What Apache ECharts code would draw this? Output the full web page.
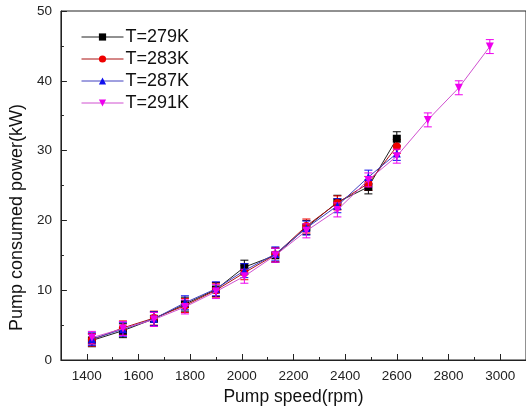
<!DOCTYPE html>
<html>
<head>
<meta charset="utf-8">
<script src="https://cdn.jsdelivr.net/npm/echarts@6/dist/echarts.min.js"></script>
<style>
html,body{margin:0;padding:0;background:#fff;}
#chart{width:526px;height:416px;}
</style>
</head>
<body>
<div id="chart"></div>
<script>
// ---- data ----
const speeds = [1420, 1540, 1660, 1780, 1900, 2010, 2130, 2250, 2370, 2490, 2600];
const speeds291 = [1420, 1540, 1660, 1780, 1900, 2010, 2130, 2250, 2370, 2490, 2600, 2720, 2840, 2960];
const seriesNames = ['T=279K', 'T=283K', 'T=287K', 'T=291K'];
const p279 = [2.8, 4.2, 5.9, 8.0, 10.1, 13.3, 15.0, 19.0, 22.6, 24.8, 31.7];
const p283 = [2.9, 4.6, 6.0, 7.8, 10.0, 12.5, 15.1, 19.2, 22.5, 25.3, 30.6];
const p287 = [3.0, 4.4, 5.9, 8.2, 10.2, 12.8, 15.2, 18.9, 22.1, 26.2, 29.6];
const p291 = [3.2, 4.5, 5.8, 7.6, 9.8, 12.0, 15.0, 18.5, 21.5, 25.8, 29.2, 34.4, 39.0, 44.9];
const e279 = [0.9, 1.0, 1.0, 1.0, 1.0, 1.0, 1.0, 1.0, 1.0, 1.0, 1.0];
const e283 = [0.9, 1.0, 1.0, 1.0, 1.0, 1.0, 1.0, 1.0, 1.0, 1.0, 1.0];
const e287 = [0.9, 1.0, 1.0, 1.0, 1.0, 1.0, 1.0, 1.0, 1.0, 1.0, 1.0];
const e291 = [0.9, 1.0, 1.0, 1.0, 1.0, 1.0, 1.0, 1.0, 1.0, 1.0, 1.0, 1.0, 1.0, 1.0];
const xMajorTicks = [1400, 1600, 1800, 2000, 2200, 2400, 2600, 2800, 3000];
const xTitle = 'Pump speed(rpm)';
const yTitle = 'Pump consumed power(kW)';

const FONT = '"Liberation Sans", Arial, sans-serif';
const colors = ['#000000', '#ee0000', '#1010ee', '#ee00ee'];
const lineColors = ['#222222', '#aa1010', '#4040c0', '#d050d0'];
const symbols = ['rect', 'circle', 'triangle', 'path://M0,0 L10,0 L5,10 Z'];
const ys = [p279, p283, p287, p291];
const es = [e279, e283, e287, e291];
const xs = [speeds, speeds, speeds, speeds291];

const series = [];
for (let i = 0; i < 4; i++) {
  const data = xs[i].map((x, k) => [x, ys[i][k]]);
  const edata = xs[i].map((x, k) => [x, ys[i][k], es[i][k]]);
  series.push({
    type: 'custom',
    name: seriesNames[i] + ' err',
    xAxisIndex: 0, yAxisIndex: 0,
    data: edata,
    z: 2 + i,
    silent: true,
    renderItem: function (params, api) {
      const x = api.value(0), y = api.value(1), e = api.value(2);
      const t = api.coord([x, y + e]);
      const b = api.coord([x, y - e]);
      const h = 4;
      const st = { stroke: colors[i], lineWidth: 1 };
      return {
        type: 'group',
        children: [
          { type: 'line', shape: { x1: t[0], y1: t[1], x2: b[0], y2: b[1] }, style: st },
          { type: 'line', shape: { x1: t[0] - h, y1: t[1], x2: t[0] + h, y2: t[1] }, style: st },
          { type: 'line', shape: { x1: b[0] - h, y1: b[1], x2: b[0] + h, y2: b[1] }, style: st }
        ]
      };
    }
  });
  series.push({
    type: 'line',
    name: seriesNames[i],
    xAxisIndex: 0, yAxisIndex: 0,
    data: data,
    z: 3 + i,
    symbol: symbols[i],
    symbolSize: 8,
    showSymbol: true,
    itemStyle: { color: colors[i] },
    lineStyle: { color: lineColors[i], width: 1 },
    animation: false
  });
}

const chart = echarts.init(document.getElementById('chart'), null, { renderer: 'canvas' });
chart.setOption({
  animation: false,
  backgroundColor: '#ffffff',
  textStyle: { fontFamily: FONT },
  grid: { left: 60, top: 11, width: 468, height: 349, show: true, borderColor: '#222', borderWidth: 1, backgroundColor: 'transparent' },
  legend: {
    data: seriesNames.map((n, i) => ({ name: n, itemStyle: { color: colors[i] }, lineStyle: { color: lineColors[i], width: 1 } })),
    orient: 'vertical',
    left: 76, top: 23,
    itemWidth: 42, itemHeight: 9,
    itemGap: 4,
    textStyle: { fontFamily: FONT, fontSize: 18, color: '#111', padding: [0, 0, 0, -3] }
  },
  xAxis: [{
    type: 'value',
    min: 1300, max: 3100, interval: 100,
    name: xTitle, nameLocation: 'middle', nameGap: 26,
    nameTextStyle: { fontFamily: FONT, fontSize: 17.5, color: '#111' },
    axisLine: { show: true, lineStyle: { color: '#222', width: 1 } },
    axisTick: { show: true, inside: true, length: 6, customValues: xMajorTicks, lineStyle: { color: '#222' } },
    axisLabel: { show: true, customValues: xMajorTicks, formatter: function (v) { return String(v); }, fontFamily: FONT, fontSize: 13.5, color: '#222', margin: 9 },
    splitLine: { show: false }
  }, {
    type: 'value',
    min: 1300, max: 3100, interval: 200,
    position: 'bottom',
    axisLine: { show: false },
    axisTick: { show: true, inside: true, length: 3, lineStyle: { color: '#222' } },
    axisLabel: { show: false },
    splitLine: { show: false }
  }],
  yAxis: [{
    type: 'value',
    min: 0, max: 50, interval: 10,
    name: yTitle, nameLocation: 'middle', nameGap: 26,
    nameTextStyle: { fontFamily: FONT, fontSize: 18, color: '#111', padding: [0, 64, 0, 0] },
    axisLine: { show: true, lineStyle: { color: '#222', width: 1 } },
    axisTick: { show: true, inside: true, length: 6, lineStyle: { color: '#222' } },
    minorTick: { show: true, splitNumber: 2, length: 3, lineStyle: { color: '#222' } },
    axisLabel: { fontFamily: FONT, fontSize: 13.5, color: '#222', margin: 9 },
    splitLine: { show: false },
    minorSplitLine: { show: false }
  }],
  series: series
});
</script>
</body>
</html>
